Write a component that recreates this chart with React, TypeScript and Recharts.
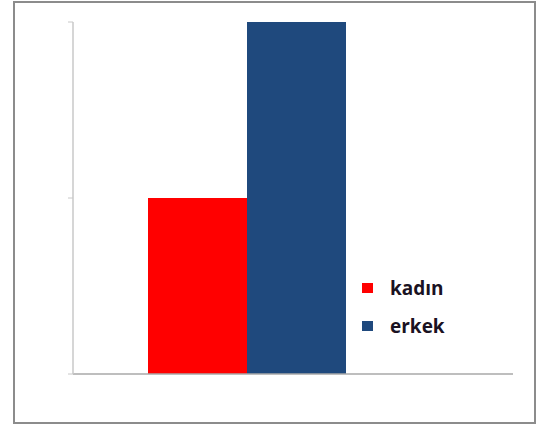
import React from 'react';
import { BarChart, Bar, XAxis, YAxis } from 'recharts';

const categories = [''];
const kadinValues = [1];
const erkekValues = [2];
const yTicks = [0, 1, 2];
const seriesNames = ['kadın', 'erkek'];
const seriesColors = ['#ff0000', '#1f497d'];

const data = categories.map((c, i) => ({
  name: c,
  kadin: kadinValues[i],
  erkek: erkekValues[i],
}));

const LegendBox = () => (
  <div
    style={{
      position: 'absolute',
      left: 362,
      top: 269,
      fontFamily: '"Open Sans", sans-serif',
      fontWeight: 700,
      fontSize: 19,
      color: '#1a1222',
    }}
  >
    {seriesNames.map((n, i) => (
      <div key={n} style={{ display: 'flex', alignItems: 'center', height: 38 }}>
        <div style={{ width: 11, height: 10, background: seriesColors[i], marginRight: 17 }} />
        <span>{n}</span>
      </div>
    ))}
  </div>
);

export default function App() {
  return (
    <div style={{ position: 'absolute', left: 0, top: 0, width: 541, height: 431, background: '#fff' }}>
      <div
        style={{
          position: 'absolute',
          left: 13,
          top: 1,
          width: 519,
          height: 419,
          border: '2px solid #8c8c8c',
        }}
      />
      <div style={{ position: 'absolute', left: 0, top: 0 }}>
        <BarChart
          width={541}
          height={431}
          data={data}
          margin={{ top: 22, right: 28, bottom: 56, left: 72 }}
          barGap={0}
        >
          <XAxis
            dataKey="name"
            height={1}
            padding={{ left: 0, right: 93 }}
            axisLine={{ stroke: '#a8a8a8', strokeWidth: 1.5 }}
            tickLine={false}
            tick={false}
          />
          <YAxis
            width={1}
            domain={[0, 2]}
            ticks={yTicks}
            tickFormatter={() => ''}
            tickSize={5}
            axisLine={{ stroke: '#c8c8c8', strokeWidth: 1.5 }}
            tickLine={{ stroke: '#c8c8c8' }}
          />
          <Bar dataKey="kadin" name="kadın" fill={seriesColors[0]} barSize={99} isAnimationActive={false} />
          <Bar dataKey="erkek" name="erkek" fill={seriesColors[1]} barSize={99} isAnimationActive={false} />
        </BarChart>
      </div>
      <LegendBox />
    </div>
  );
}
